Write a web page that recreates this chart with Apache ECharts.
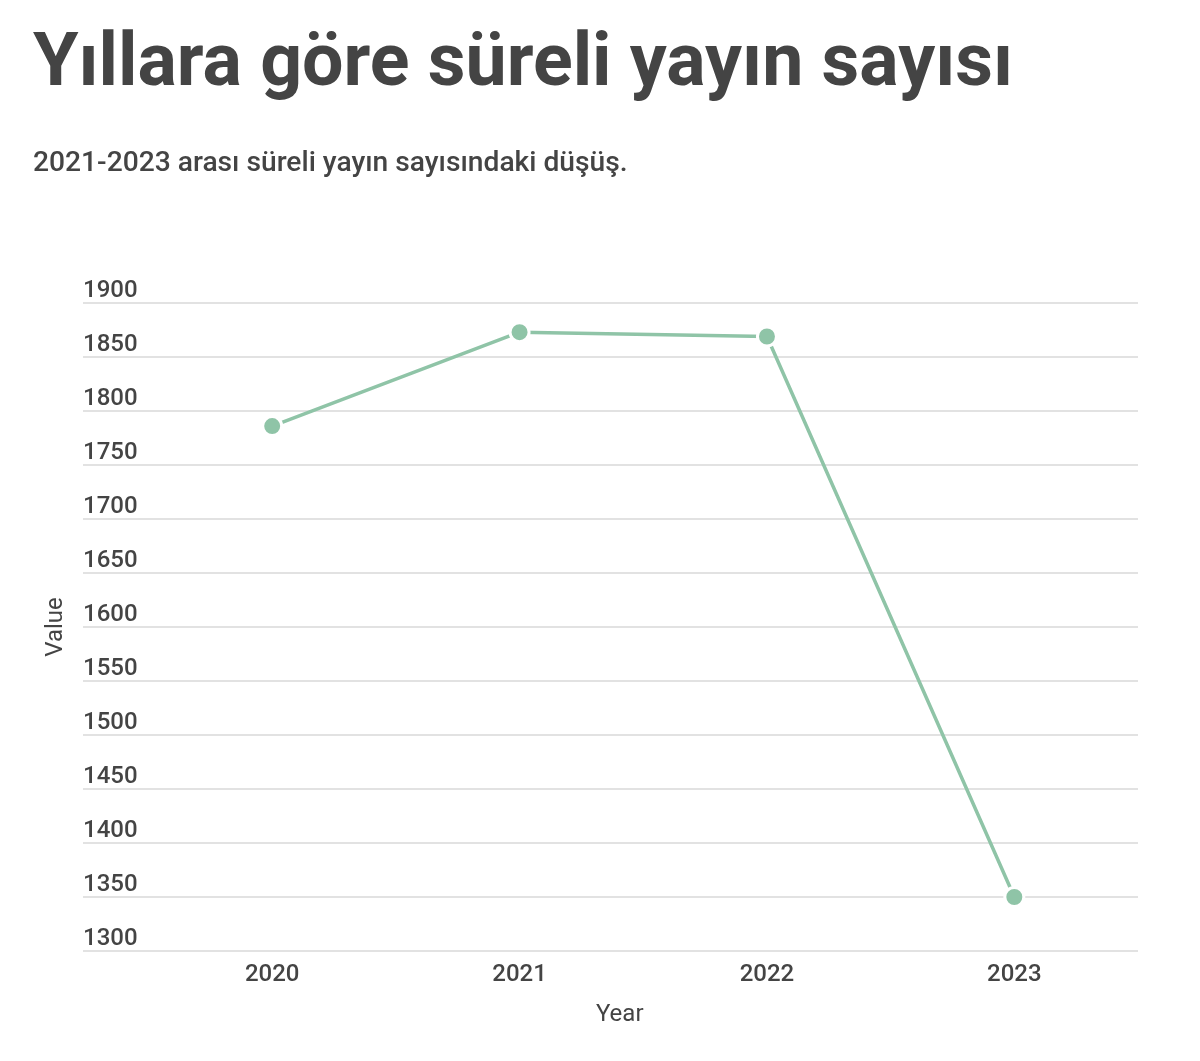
<!DOCTYPE html>
<html>
<head>
<meta charset="utf-8">
<script src="https://cdn.jsdelivr.net/npm/echarts@6/dist/echarts.min.js"></script>
<style>html,body{margin:0;padding:0;background:#fff}#c{width:1200px;height:1061px}</style>
</head>
<body>
<div id="c"></div>
<script>
const titleText = 'Yıllara göre süreli yayın sayısı';
const subtitleText = '2021-2023 arası süreli yayın sayısındaki düşüş.';
const years = ['2020', '2021', '2022', '2023'];
const values = [1786, 1873, 1869, 1350];
const yMin = 1300, yMax = 1900, yStep = 50;

const chart = echarts.init(document.getElementById('c'), null, {renderer: 'canvas'});
const font = 'Roboto, "Noto Sans", sans-serif';
chart.setOption({
  backgroundColor: '#fff',
  animation: false,
  title: [
    {text: titleText, left: 28, top: 25, textStyle: {fontFamily: font, fontSize: 73.5, fontWeight: 'bold', color: '#444'}},
    {text: subtitleText, left: 28, top: 145, textStyle: {fontFamily: font, fontSize: 28.2, fontWeight: 500, color: '#444'}}
  ],
  grid: [
    {left: 83, right: 62, top: 303, bottom: 110},
    {left: 148.5, right: 62, top: 303, bottom: 110}
  ],
  xAxis: [
    {gridIndex: 0, type: 'value', min: 0, max: 1, show: false},
    {gridIndex: 1, type: 'category', data: years, boundaryGap: true,
     axisLine: {show: false}, axisTick: {show: false}, splitLine: {show: false},
     axisLabel: {margin: 12, fontFamily: font, fontSize: 24, fontWeight: 500, color: '#444'},
     name: 'Year', nameLocation: 'middle', nameGap: 52,
     nameTextStyle: {fontFamily: font, fontSize: 24, color: '#444', padding: [0, 47, 0, 0]}}
  ],
  yAxis: [
    {gridIndex: 0, type: 'value', min: yMin, max: yMax, interval: yStep,
     axisLine: {show: false}, axisTick: {show: false},
     splitLine: {show: true, lineStyle: {color: '#d9d9d9', width: 1.5}},
     axisLabel: {inside: true, margin: 0, align: 'left', verticalAlign: 'bottom', padding: [0, 0, 0, 0],
                 formatter: v => String(v),
                 fontFamily: font, fontSize: 24, fontWeight: 500, color: '#444'},
     name: 'Value', nameLocation: 'middle', nameGap: 15, nameRotate: 90,
     nameTextStyle: {fontFamily: font, fontSize: 24, color: '#444'}},
    {gridIndex: 1, type: 'value', min: yMin, max: yMax, interval: yStep, show: false, splitLine: {show: false}}
  ],
  series: [{
    type: 'line', xAxisIndex: 1, yAxisIndex: 1, data: values,
    symbol: 'circle', symbolSize: 19, showAllSymbol: true,
    lineStyle: {color: '#8fc4a7', width: 3.5},
    itemStyle: {color: '#8fc4a7', borderColor: '#fff', borderWidth: 3},
    z: 3
  }]
});
</script>
</body>
</html>
